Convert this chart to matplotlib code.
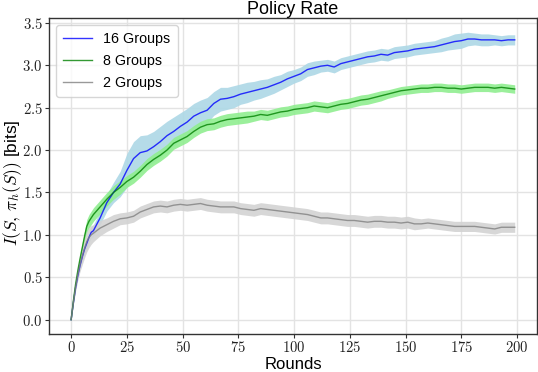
import matplotlib
matplotlib.use("Agg")
import matplotlib.pyplot as plt
from matplotlib.ticker import FuncFormatter
import numpy as np

plt.rcParams['font.family'] = ['Liberation Sans', 'DejaVu Sans']
plt.rcParams['mathtext.fontset'] = 'cm'

rounds = list(range(11)) + list(range(13, 200, 3))

g16_mean = [0.0, 0.2, 0.38, 0.52, 0.64, 0.74, 0.83, 0.9, 0.97, 1.03, 1.05,
            1.2, 1.38, 1.5, 1.6, 1.76, 1.9, 1.97, 1.99, 2.04, 2.1, 2.17, 2.22, 2.28, 2.33,
            2.4, 2.44, 2.47, 2.55, 2.6, 2.61, 2.63, 2.66, 2.68, 2.7, 2.72, 2.74, 2.77, 2.8,
            2.84, 2.87, 2.9, 2.95, 2.97, 2.99, 3.0, 2.98, 3.02, 3.04, 3.06, 3.08, 3.1, 3.11,
            3.13, 3.12, 3.15, 3.16, 3.17, 3.19, 3.2, 3.21, 3.22, 3.24, 3.26, 3.28, 3.29,
            3.31, 3.31, 3.3, 3.3, 3.3, 3.29, 3.3, 3.3]
g16_spread = [0.0, 0.02, 0.03, 0.04, 0.04, 0.05, 0.05, 0.06, 0.06, 0.07, 0.07,
              0.08, 0.1, 0.12, 0.15, 0.2, 0.2, 0.2, 0.19, 0.18, 0.18, 0.17, 0.17, 0.16, 0.16,
              0.15, 0.15, 0.15, 0.14, 0.14, 0.13, 0.13, 0.12, 0.12, 0.11, 0.11, 0.1, 0.1, 0.09,
              0.09, 0.08, 0.08, 0.08, 0.08, 0.07, 0.07, 0.07, 0.07, 0.07, 0.07, 0.07, 0.07, 0.07,
              0.07, 0.07, 0.07, 0.07, 0.07, 0.07, 0.07, 0.07, 0.07, 0.08, 0.08, 0.09, 0.09,
              0.08, 0.07, 0.07, 0.07, 0.06, 0.06, 0.06, 0.06]

g8_mean = [0.0, 0.22, 0.42, 0.58, 0.72, 0.85, 0.98, 1.1, 1.16, 1.2, 1.24,
           1.33, 1.42, 1.5, 1.56, 1.63, 1.68, 1.75, 1.83, 1.89, 1.94, 2.0, 2.08, 2.12, 2.16,
           2.22, 2.27, 2.3, 2.31, 2.34, 2.36, 2.37, 2.38, 2.39, 2.4, 2.42, 2.41, 2.43, 2.45,
           2.46, 2.48, 2.49, 2.5, 2.52, 2.51, 2.5, 2.52, 2.54, 2.55, 2.57, 2.59, 2.6, 2.62,
           2.64, 2.66, 2.68, 2.7, 2.71, 2.72, 2.73, 2.73, 2.74, 2.74, 2.73, 2.73, 2.72,
           2.73, 2.74, 2.74, 2.74, 2.73, 2.74, 2.73, 2.72]
g8_spread = [0.0, 0.02, 0.03, 0.04, 0.05, 0.06, 0.07, 0.08, 0.08, 0.08, 0.08,
             0.08, 0.08, 0.08, 0.08, 0.07, 0.07, 0.07, 0.07, 0.07, 0.07, 0.07, 0.07, 0.07, 0.07,
             0.07, 0.07, 0.07, 0.07, 0.07, 0.07, 0.07, 0.07, 0.07, 0.06, 0.06, 0.06, 0.06, 0.06,
             0.06, 0.06, 0.06, 0.06, 0.06, 0.06, 0.06, 0.06, 0.06, 0.06, 0.06, 0.06, 0.06, 0.06,
             0.06, 0.05, 0.05, 0.05, 0.05, 0.05, 0.05, 0.05, 0.05, 0.05, 0.05, 0.05, 0.05,
             0.05, 0.05, 0.05, 0.05, 0.05, 0.05, 0.05, 0.05]

g2_mean = [0.0, 0.2, 0.38, 0.53, 0.65, 0.75, 0.84, 0.92, 0.97, 1.0, 1.02,
           1.08, 1.12, 1.16, 1.19, 1.2, 1.22, 1.27, 1.3, 1.33, 1.34, 1.33, 1.35, 1.36, 1.35,
           1.36, 1.37, 1.35, 1.34, 1.33, 1.33, 1.33, 1.31, 1.3, 1.29, 1.31, 1.3, 1.29, 1.28,
           1.27, 1.26, 1.25, 1.24, 1.22, 1.2, 1.2, 1.19, 1.18, 1.17, 1.17, 1.16, 1.15, 1.16,
           1.16, 1.15, 1.15, 1.14, 1.15, 1.13, 1.13, 1.14, 1.13, 1.12, 1.11, 1.1, 1.1,
           1.1, 1.1, 1.09, 1.08, 1.07, 1.09, 1.09, 1.09]
g2_spread = [0.0, 0.02, 0.04, 0.06, 0.08, 0.1, 0.11, 0.12, 0.12, 0.11, 0.1,
             0.09, 0.08, 0.08, 0.07, 0.07, 0.07, 0.07, 0.07, 0.07, 0.07, 0.07, 0.07, 0.07, 0.07,
             0.07, 0.07, 0.07, 0.07, 0.07, 0.07, 0.07, 0.07, 0.07, 0.07, 0.07, 0.07, 0.07, 0.07,
             0.07, 0.07, 0.07, 0.07, 0.07, 0.07, 0.07, 0.07, 0.07, 0.07, 0.07, 0.07, 0.07, 0.07,
             0.07, 0.07, 0.07, 0.07, 0.07, 0.07, 0.06, 0.06, 0.06, 0.06, 0.06, 0.06, 0.06,
             0.06, 0.06, 0.06, 0.06, 0.06, 0.06, 0.06, 0.06]

series = [
    ("16 Groups", g16_mean, g16_spread, "blue", "lightblue"),
    ("8 Groups", g8_mean, g8_spread, "green", "lightgreen"),
    ("2 Groups", g2_mean, g2_spread, "gray", "lightgray"),
]

fig = plt.figure(figsize=(5.38, 3.72), dpi=100)
ax = fig.add_axes([0.091, 0.102, 0.907, 0.85])

x = np.array(rounds)
for label, m, s, c, fc in series:
    m = np.array(m); s = np.array(s)
    ax.fill_between(x, m - s, m + s, color=fc, alpha=0.9, linewidth=0, zorder=1)
for label, m, s, c, fc in series:
    ax.plot(x, m, color=c, alpha=0.8, linewidth=1.0, label=label, zorder=2)

ax.grid(True, color='#e3e3e3', linewidth=1.0, zorder=0)
ax.set_axisbelow(True)
ax.set_xticks([0, 25, 50, 75, 100, 125, 150, 175, 200])
ax.set_yticks([0.0, 0.5, 1.0, 1.5, 2.0, 2.5, 3.0, 3.5])
ax.xaxis.set_major_formatter(FuncFormatter(lambda v, p: f"${v:.0f}$"))
ax.yaxis.set_major_formatter(FuncFormatter(lambda v, p: f"${v:.1f}$"))
ax.tick_params(labelsize=10.6, length=3, width=0.8, pad=1.5,
               colors='#333333', labelcolor='#222222')
for sp in ax.spines.values():
    sp.set_color('#333333')
    sp.set_linewidth(1.0)

ax.set_title("Policy Rate", fontsize=13, pad=2)
ax.set_xlabel("Rounds", fontsize=12, labelpad=1)
ax.set_ylabel(r"$I(S,\,\pi_h(S))$ [bits]", fontsize=12.5)
ax.yaxis.set_label_coords(-0.052, 0.48)
ax.legend(loc='upper left', fontsize=10.3, frameon=True, edgecolor='#cccccc',
          handlelength=2.0, borderpad=0.5, labelspacing=0.55, handletextpad=0.8)

fig.savefig("out.png", dpi=100)
